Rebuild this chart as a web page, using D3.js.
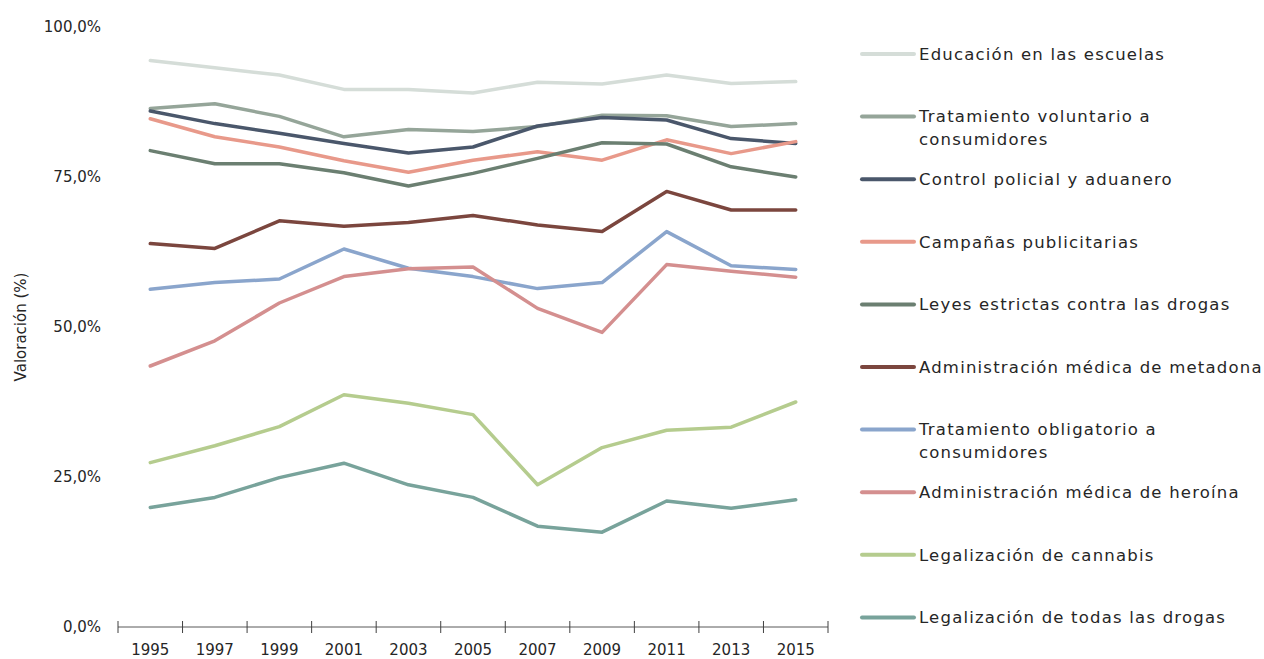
<!DOCTYPE html>
<html>
<head>
<meta charset="utf-8">
<script src="https://cdn.jsdelivr.net/npm/d3@7"></script>
<style>
  body { margin: 0; background: #fff; }
  text { font-family: "DejaVu Sans", sans-serif; fill: #262626; }
</style>
</head>
<body>
<div id="chart"></div>
<script>
// years on the x axis
let years = ["1995", "1997", "1999", "2001", "2003", "2005", "2007", "2009", "2011", "2013", "2015"];

// one array per series (valoración %)
let educacion   = [94.4, 93.2, 92.0, 89.6, 89.6, 89.0, 90.8, 90.5, 92.0, 90.6, 90.9];
let voluntario  = [86.4, 87.2, 85.1, 81.7, 82.9, 82.6, 83.4, 85.3, 85.2, 83.4, 83.9];
let control     = [86.0, 83.9, 82.3, 80.6, 79.0, 80.0, 83.5, 84.9, 84.5, 81.4, 80.6];
let campanas    = [84.7, 81.7, 80.0, 77.7, 75.8, 77.8, 79.2, 77.8, 81.2, 78.9, 80.9];
let leyes       = [79.4, 77.2, 77.2, 75.7, 73.5, 75.6, 78.1, 80.7, 80.5, 76.7, 75.0];
let metadona    = [63.9, 63.1, 67.7, 66.8, 67.4, 68.6, 67.0, 65.9, 72.6, 69.5, 69.5];
let obligatorio = [56.3, 57.4, 58.0, 63.0, 59.8, 58.4, 56.4, 57.4, 65.9, 60.2, 59.6];
let heroina     = [43.5, 47.7, 54.0, 58.4, 59.7, 60.0, 53.1, 49.1, 60.4, 59.3, 58.3];
let cannabis    = [27.4, 30.2, 33.4, 38.7, 37.3, 35.4, 23.7, 29.9, 32.8, 33.3, 37.5];
let todas       = [19.9, 21.6, 24.9, 27.3, 23.7, 21.6, 16.8, 15.8, 21.0, 19.8, 21.2];

let seriesNames = [
  "Educación en las escuelas",
  "Tratamiento voluntario a consumidores",
  "Control policial y aduanero",
  "Campañas publicitarias",
  "Leyes estrictas contra las drogas",
  "Administración médica de metadona",
  "Tratamiento obligatorio a consumidores",
  "Administración médica de heroína",
  "Legalización de cannabis",
  "Legalización de todas las drogas"
];
let seriesValues = [educacion, voluntario, control, campanas, leyes, metadona, obligatorio, heroina, cannabis, todas];
let colors = ["#d5ddd8", "#95a599", "#4a576b", "#e8998a", "#6b7f71", "#7b463e", "#8aa5cc", "#d48f8f", "#b5cc8e", "#78a39b"];
let yTicks = [0, 25, 50, 75, 100];

let width = 1264;
let height = 659;

let svg = d3.select("#chart").append("svg")
  .attr("width", width)
  .attr("height", height);

let x = d3.scaleBand()
  .domain(years)
  .range([118, 828]);

let y = d3.scaleLinear()
  .domain([0, 100])
  .range([627, 27]);

let fmt = function(v) { return d3.format(".1f")(v).replace(".", ",") + "%"; };

// y labels (no axis line)
svg.append("g").selectAll("text")
  .data(yTicks)
  .enter().append("text")
  .attr("x", 101)
  .attr("y", function(d) { return y(d); })
  .attr("dy", "0.35em")
  .attr("text-anchor", "end")
  .style("font-size", "15px")
  .text(fmt);

// axis title
svg.append("text")
  .attr("transform", "translate(26," + y(50) + ") rotate(-90)")
  .attr("text-anchor", "middle")
  .style("font-size", "15px")
  .text("Valoración (%)");

// x axis: line + boundary ticks + centered labels
let xAxis = svg.append("g");
xAxis.append("line")
  .attr("x1", x.range()[0]).attr("x2", x.range()[1])
  .attr("y1", y(0)).attr("y2", y(0))
  .attr("stroke", "#595959").attr("stroke-width", 1);

let edges = years.map(function(d) { return x(d); }).concat([x.range()[1]]);
xAxis.selectAll(".tick")
  .data(edges)
  .enter().append("line")
  .attr("x1", function(d) { return d; }).attr("x2", function(d) { return d; })
  .attr("y1", y(0) - 6).attr("y2", y(0) + 6)
  .attr("stroke", "#404040").attr("stroke-width", 1);

xAxis.selectAll(".lbl")
  .data(years)
  .enter().append("text")
  .attr("x", function(d) { return x(d) + x.bandwidth() / 2; })
  .attr("y", 650)
  .attr("dy", "0.35em")
  .attr("text-anchor", "middle")
  .style("font-size", "15px")
  .text(function(d) { return d; });

// lines
let line = d3.line()
  .x(function(d, i) { return x(years[i]) + x.bandwidth() / 2; })
  .y(function(d) { return y(d); });

svg.append("g").selectAll("path")
  .data(seriesValues)
  .enter().append("path")
  .attr("d", line)
  .attr("fill", "none")
  .attr("stroke", function(d, i) { return colors[i]; })
  .attr("stroke-width", 3.5)
  .attr("stroke-linejoin", "round")
  .attr("stroke-linecap", "round");

// legend
let wraps = {
  "Tratamiento voluntario a consumidores": ["Tratamiento voluntario a", "consumidores"],
  "Tratamiento obligatorio a consumidores": ["Tratamiento obligatorio a", "consumidores"]
};

let legend = svg.selectAll(".legend")
  .data(seriesNames)
  .enter().append("g")
  .attr("class", "legend")
  .attr("transform", function(_, i) { return "translate(861," + (54 + i * 62.6) + ")"; });

legend.append("line")
  .attr("x1", 1).attr("x2", 53)
  .attr("y1", 0).attr("y2", 0)
  .attr("stroke", function(_, i) { return colors[i]; })
  .attr("stroke-width", 4)
  .attr("stroke-linecap", "round");

legend.append("text")
  .attr("x", 58)
  .attr("y", 0)
  .style("font-size", "16.5px")
  .style("letter-spacing", "1.2px")
  .each(function(d) {
    let parts = wraps[d] || [d];
    d3.select(this).selectAll("tspan")
      .data(parts)
      .enter().append("tspan")
      .attr("x", 58)
      .attr("dy", function(_, j) { return j === 0 ? "0.35em" : "23px"; })
      .text(function(t) { return t; });
  });
</script>
</body>
</html>
